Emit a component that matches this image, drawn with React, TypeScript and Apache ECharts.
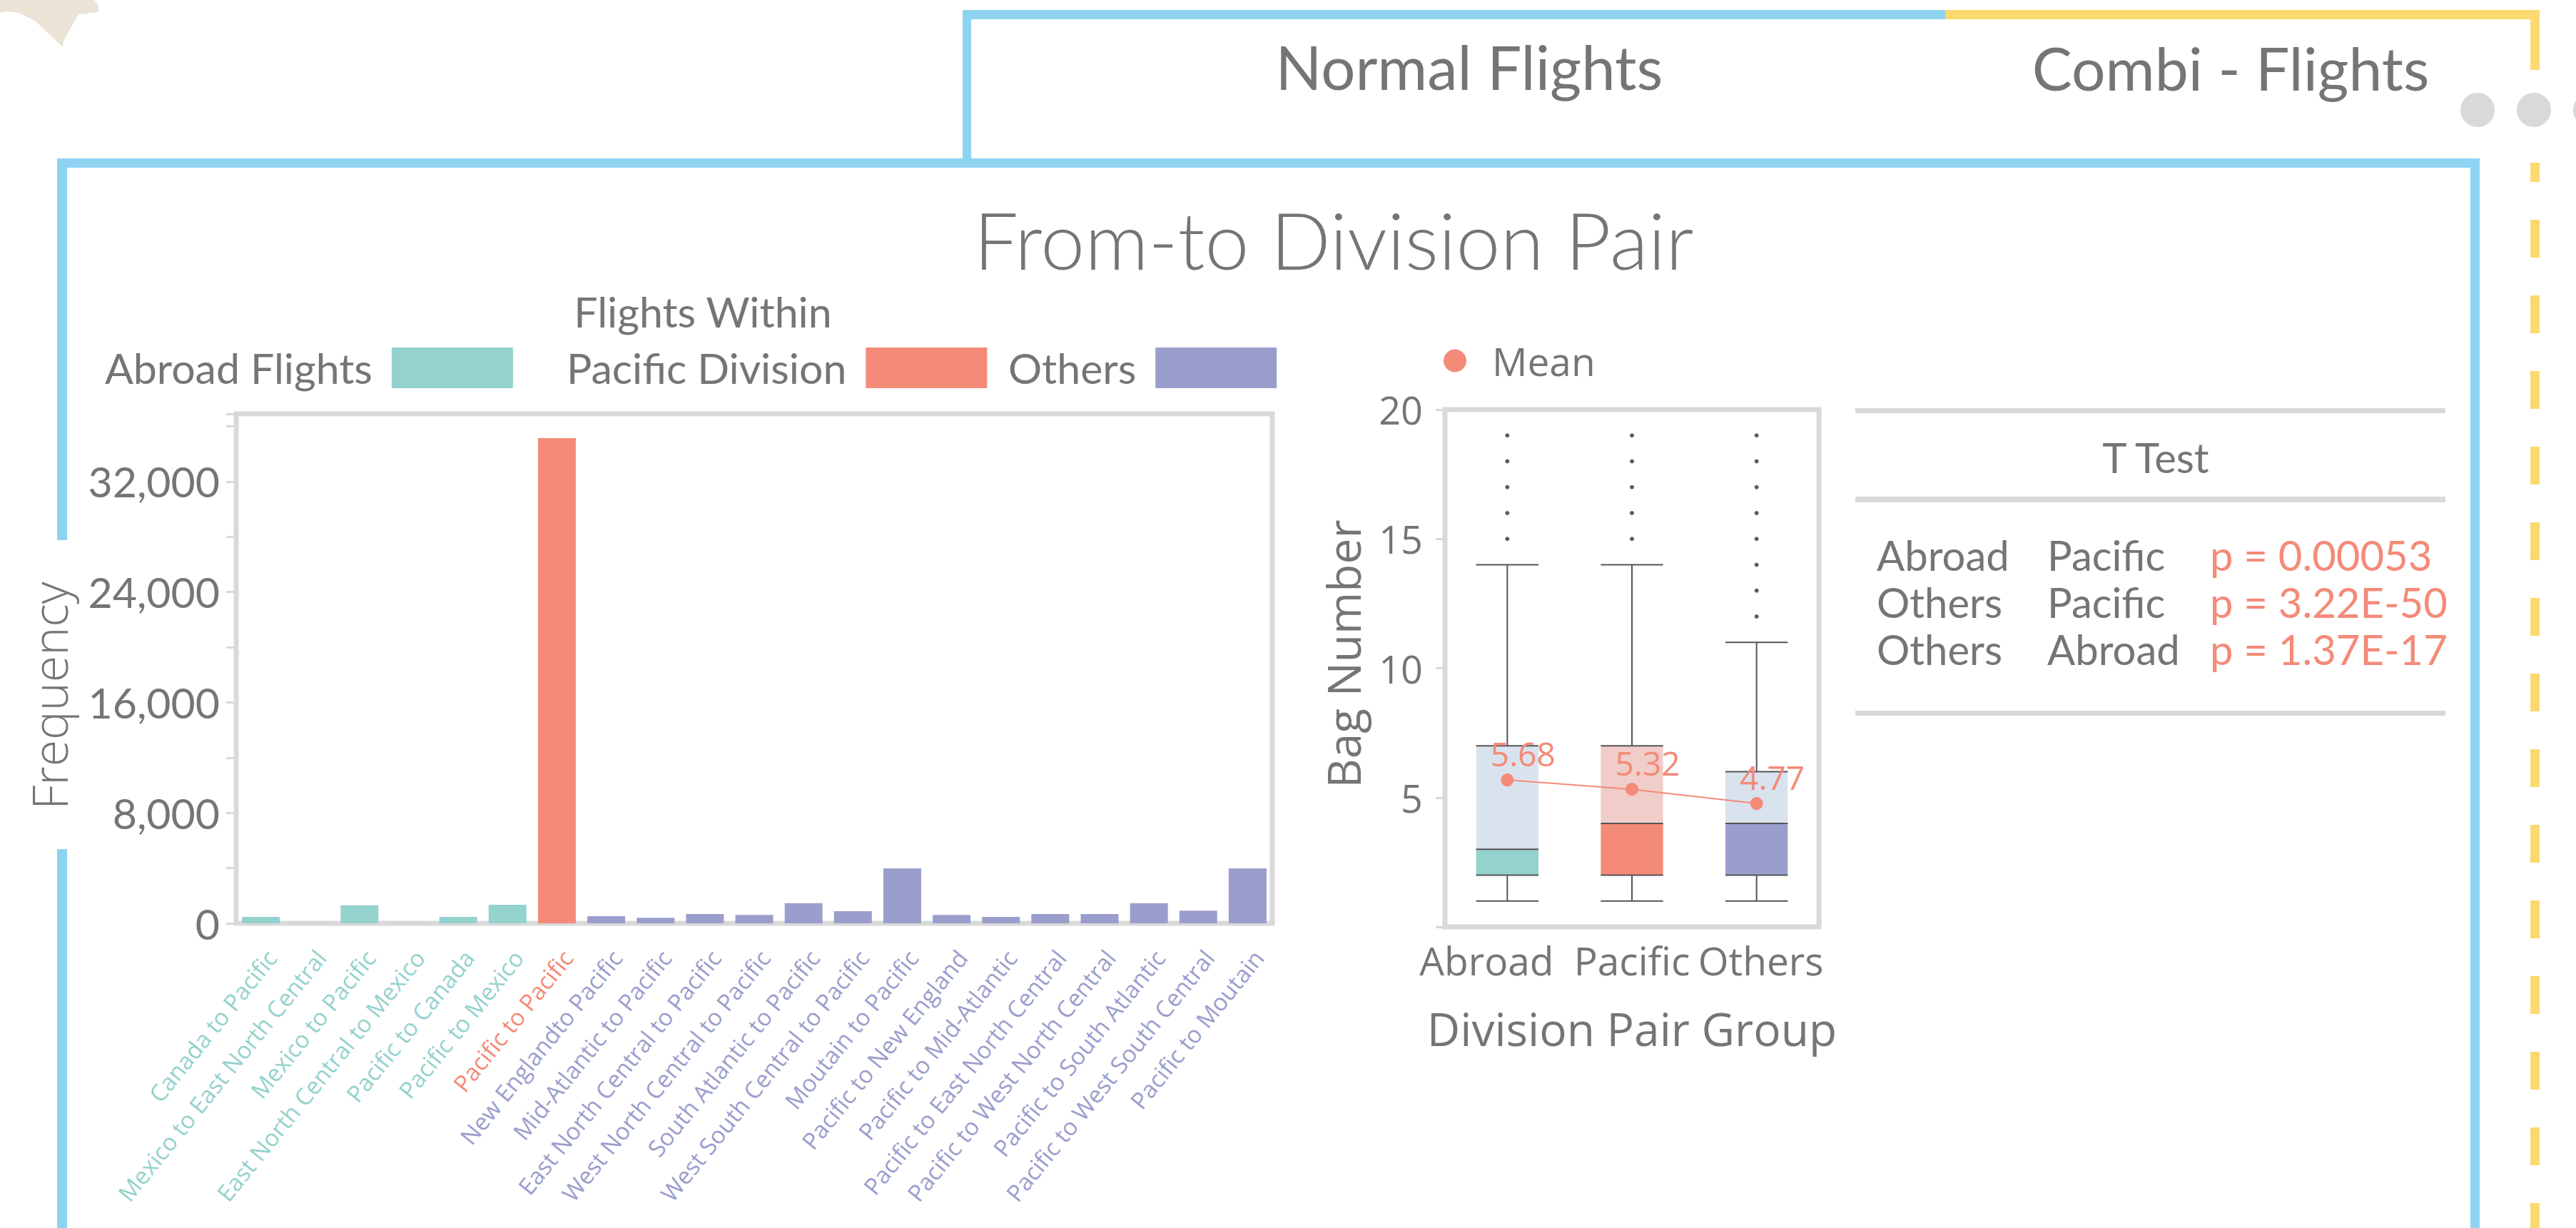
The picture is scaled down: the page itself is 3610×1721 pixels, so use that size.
import React, { useEffect, useRef } from 'react';
import * as echarts from 'echarts';

// ---------- data ----------
const routeNames = [
  'Canada to Pacific',
  'Mexico to East North Central',
  'Mexico to Pacific',
  'East North Central to Mexico',
  'Pacific to Canada',
  'Pacific to Mexico',
  'Pacific to Pacific',
  'New Englandto Pacific',
  'Mid-Atlantic to Pacific',
  'East North Central to Pacific',
  'West North Central to Pacific',
  'South Atlantic to Pacific',
  'West South Central to Pacific',
  'Moutain to Pacific',
  'Pacific to New England',
  'Pacific to Mid-Atlantic',
  'Pacific to East North Central',
  'Pacific to West North Central',
  'Pacific to South Atlantic',
  'Pacific to West South Central',
  'Pacific to Moutain',
];
const routeGroup = [
  'abroad', 'abroad', 'abroad', 'abroad', 'abroad', 'abroad',
  'pacific',
  'others', 'others', 'others', 'others', 'others', 'others', 'others',
  'others', 'others', 'others', 'others', 'others', 'others', 'others',
];
const routeFrequency = [
  460, 15, 1300, 15, 460, 1340, 35140, 520, 400, 670, 610, 1455, 880, 3980,
  610, 460, 670, 670, 1455, 920, 3980,
];
const freqTicks = [0, 8000, 16000, 24000, 32000];

const groupNames = ['Abroad', 'Pacific', 'Others'];
const boxMin = [1, 1, 1];
const boxQ1 = [2, 2, 2];
const boxMedian = [3, 4, 4];
const boxQ3 = [7, 7, 6];
const boxMax = [14, 14, 11];
const outliersAbroad = [15, 16, 17, 18, 19];
const outliersPacific = [15, 16, 17, 18, 19];
const outliersOthers = [12, 13, 14, 15, 16, 17, 18, 19];
const groupMeans = [5.68, 5.32, 4.77];
const bagTicks = [5, 10, 15, 20];

const tTestRows = [
  ['Abroad', 'Pacific', 'p = 0.00053'],
  ['Others', 'Pacific', 'p = 3.22E-50'],
  ['Others', 'Abroad', 'p = 1.37E-17'],
];

// ---------- style ----------
const TEAL = '#94d2cd';
const SALMON = '#f48a78';
const PURPLE = '#9b9ecd';
const GRAY = '#757575';
const LIGHT = '#d9d9d9';
const BLUE = '#8ed4f2';
const YELLOW = '#fbd970';
const CAL = 'Lato, "Open Sans", sans-serif';
const SEG = '"Open Sans", "Noto Sans", sans-serif';

const groupColor: Record<string, string> = { abroad: TEAL, pacific: SALMON, others: PURPLE };
const lowerColors = [TEAL, SALMON, PURPLE];
const upperColors = ['#d9e3ee', '#f0cdc9', '#d9e3ee'];
const groupLabelPadding = [[0, 58, 0, 0], [0, 0, 0, 0], [0, 0, 0, 12]];

// bar chart plot area
const BAR_GRID = { left: 331, top: 580, width: 1452, height: 714 };
const LABEL_SHIFT = 15;

function App() {
  const ref = useRef<HTMLDivElement>(null);

  useEffect(() => {
    document.body.style.margin = '0';
    document.body.style.overflow = 'hidden';
    const chart = echarts.init(ref.current!, null, { renderer: 'svg' });

    const seriesFor = (g: string) =>
      routeFrequency.map((v, i) => (routeGroup[i] === g ? v : '-'));

    const boxData = groupNames.map((_, i) => [i, boxMin[i], boxQ1[i], boxMedian[i], boxQ3[i], boxMax[i]]);
    const outlierData: number[][] = [];
    [outliersAbroad, outliersPacific, outliersOthers].forEach((arr, i) =>
      arr.forEach((v) => outlierData.push([i, v]))
    );

    const rowY = [777, 843, 909];
    const colX = [2630, 2869, 3097];
    const tTestTexts: any[] = [];
    tTestRows.forEach((row, r) =>
      row.forEach((t, c) =>
        tTestTexts.push({
          type: 'text',
          x: colX[c],
          y: rowY[r],
          style: {
            text: t,
            fill: c === 2 ? SALMON : GRAY,
            font: `58px ${CAL}`,
            align: 'left',
            verticalAlign: 'middle',
          },
        })
      )
    );

    const routeLabelStyle = (i: number) => ({
      color: groupColor[routeGroup[i]],
      fontFamily: SEG,
      fontSize: 33,
    });

    const option: any = {
      animation: false,
      backgroundColor: '#ffffff',
      legend: [
        {
          data: [{ name: 'Abroad Flights', icon: 'rect' }],
          left: 147, top: 486, padding: 0, align: 'right',
          itemWidth: 170, itemHeight: 57,
          textStyle: { color: GRAY, fontFamily: CAL, fontSize: 59, padding: [0, 22, 0, 0] },
          selectedMode: false,
        },
        {
          data: [{ name: 'Flights Within Pacific Division', icon: 'rect' }],
          left: 794, top: 486, padding: 0, align: 'right',
          itemWidth: 170, itemHeight: 57,
          formatter: () => 'Pacific Division',
          textStyle: { color: GRAY, fontFamily: CAL, fontSize: 59, padding: [0, 22, 0, 0] },
          selectedMode: false,
        },
        {
          data: [{ name: 'Others', icon: 'rect' }],
          left: 1413, top: 486, padding: 0, align: 'right',
          itemWidth: 170, itemHeight: 57,
          textStyle: { color: GRAY, fontFamily: CAL, fontSize: 59, padding: [0, 22, 0, 0] },
          selectedMode: false,
        },
        {
          data: [{ name: 'Mean', icon: 'circle' }],
          left: 2023, top: 478, padding: 0, align: 'left',
          itemWidth: 32, itemHeight: 32,
          textStyle: { color: GRAY, fontFamily: SEG, fontSize: 55, padding: [0, 0, 0, 31] },
          selectedMode: false,
        },
      ],
      grid: [
        {
          ...BAR_GRID,
          show: true, borderColor: LIGHT, borderWidth: 7, backgroundColor: 'transparent',
        },
        {
          left: 2025, top: 574, width: 524, height: 725,
          show: true, borderColor: LIGHT, borderWidth: 7, backgroundColor: 'transparent',
        },
        // label band for the rotated route names (same size as the bar grid, nudged right)
        { ...BAR_GRID, left: BAR_GRID.left + LABEL_SHIFT, show: false },
      ],
      xAxis: [
        {
          type: 'category',
          gridIndex: 0,
          data: routeNames,
          axisLine: { show: false },
          axisTick: { show: false },
          axisLabel: { show: false },
        },
        {
          type: 'category',
          gridIndex: 1,
          data: groupNames.map((n, i) => ({ value: n, textStyle: { padding: groupLabelPadding[i] } })),
          axisLine: { show: false },
          axisTick: { show: false },
          axisLabel: { interval: 0, margin: 19, color: GRAY, fontFamily: SEG, fontSize: 55 },
          name: 'Division Pair Group',
          nameLocation: 'middle',
          nameGap: 110,
          nameTextStyle: { color: GRAY, fontFamily: SEG, fontSize: 64 },
        },
        {
          type: 'category',
          gridIndex: 2,
          data: routeNames.map((n, i) => ({ value: n, textStyle: routeLabelStyle(i) })),
          axisLine: { show: false },
          axisTick: { show: false },
          axisLabel: {
            interval: 0,
            rotate: 51,
            margin: 42,
            fontFamily: SEG,
            fontSize: 33,
          },
        },
      ],
      yAxis: [
        {
          type: 'value',
          gridIndex: 0,
          min: 0,
          max: 36900,
          interval: 4000,
          splitLine: { show: false },
          axisLine: { show: false },
          axisTick: { show: true, length: 14, lineStyle: { color: LIGHT, width: 3 } },
          axisLabel: {
            margin: 23,
            color: GRAY,
            fontFamily: CAL,
            fontSize: 59,
            formatter: (v: number) => (freqTicks.indexOf(v) >= 0 ? v.toLocaleString('en-US') : ''),
          },
          name: 'Frequency',
          nameLocation: 'middle',
          nameGap: 229,
          nameTextStyle: { color: GRAY, fontFamily: SEG, fontSize: 68, fontWeight: 300, padding: [0, 76, 0, 0] },
        },
        {
          type: 'value',
          gridIndex: 1,
          min: 0,
          max: 20,
          interval: 5,
          splitLine: { show: false },
          axisLine: { show: false },
          axisTick: { show: true, length: 13, lineStyle: { color: LIGHT, width: 3 } },
          axisLabel: {
            margin: 31,
            color: GRAY,
            fontFamily: SEG,
            fontSize: 54,
            formatter: (v: number) => (bagTicks.indexOf(v) >= 0 ? String(v) : ''),
          },
          name: 'Bag Number',
          nameLocation: 'middle',
          nameGap: 111,
          nameTextStyle: { color: GRAY, fontFamily: SEG, fontSize: 64, padding: [0, 0, 0, 40] },
        },
        {
          type: 'value',
          gridIndex: 2,
          show: false,
          min: 0,
          max: 1,
        },
      ],
      series: [
        {
          name: 'Abroad Flights', type: 'bar', stack: 'freq', xAxisIndex: 0, yAxisIndex: 0,
          barWidth: 53, itemStyle: { color: TEAL }, data: seriesFor('abroad'),
        },
        {
          name: 'Flights Within Pacific Division', type: 'bar', stack: 'freq', xAxisIndex: 0, yAxisIndex: 0,
          barWidth: 53, itemStyle: { color: SALMON }, data: seriesFor('pacific'),
        },
        {
          name: 'Others', type: 'bar', stack: 'freq', xAxisIndex: 0, yAxisIndex: 0,
          barWidth: 53, itemStyle: { color: PURPLE }, data: seriesFor('others'),
        },
        {
          name: 'Box',
          type: 'custom',
          xAxisIndex: 1,
          yAxisIndex: 1,
          encode: { x: 0, y: [1, 2, 3, 4, 5] },
          data: boxData,
          renderItem: (params: any, api: any) => {
            const idx = api.value(0);
            const lo = api.coord([idx, api.value(1)]);
            const q1 = api.coord([idx, api.value(2)]);
            const md = api.coord([idx, api.value(3)]);
            const q3 = api.coord([idx, api.value(4)]);
            const hi = api.coord([idx, api.value(5)]);
            const w = api.size([1, 0])[0] * 0.5;
            const x = lo[0];
            const ls = { stroke: '#555555', lineWidth: 2 };
            const hl = (y: number) => ({ type: 'line', shape: { x1: x - w / 2, y1: y, x2: x + w / 2, y2: y }, style: ls });
            return {
              type: 'group',
              children: [
                { type: 'rect', shape: { x: x - w / 2, y: q3[1], width: w, height: md[1] - q3[1] }, style: { fill: upperColors[idx] } },
                { type: 'rect', shape: { x: x - w / 2, y: md[1], width: w, height: q1[1] - md[1] }, style: { fill: lowerColors[idx] } },
                { type: 'line', shape: { x1: x, y1: hi[1], x2: x, y2: q3[1] }, style: ls },
                { type: 'line', shape: { x1: x, y1: q1[1], x2: x, y2: lo[1] }, style: ls },
                hl(hi[1]), hl(q3[1]), hl(md[1]), hl(q1[1]), hl(lo[1]),
              ],
            };
          },
          z: 2,
        },
        {
          name: 'Outliers',
          type: 'scatter',
          xAxisIndex: 1,
          yAxisIndex: 1,
          symbol: 'circle',
          symbolSize: 6,
          itemStyle: { color: '#333333' },
          data: outlierData,
          z: 3,
        },
        {
          name: 'Mean',
          type: 'line',
          xAxisIndex: 1,
          yAxisIndex: 1,
          data: groupMeans,
          symbol: 'circle',
          symbolSize: 18,
          lineStyle: { color: SALMON, width: 2 },
          itemStyle: { color: SALMON },
          label: {
            show: true,
            position: 'top',
            offset: [22, 0],
            color: SALMON,
            fontFamily: SEG,
            fontSize: 46,
            formatter: (p: any) => p.value.toFixed(2),
          },
          z: 5,
        },
      ],
      graphic: [
        // top-left decorative shape
        {
          type: 'polygon',
          shape: {
            points: [[0, 0], [0, 18], [7, 16], [27, 18], [50, 30], [88, 66], [89, 57], [110, 20], [138, 17], [138, 7], [132, 0]],
          },
          style: { fill: '#ebe4d6' },
          silent: true,
        },
        // tab frame
        { type: 'rect', shape: { x: 1349, y: 14, width: 1377, height: 13 }, style: { fill: BLUE } },
        { type: 'rect', shape: { x: 2726, y: 14, width: 833, height: 13 }, style: { fill: YELLOW } },
        { type: 'rect', shape: { x: 1349, y: 14, width: 12, height: 208 }, style: { fill: BLUE } },
        { type: 'rect', shape: { x: 3546, y: 14, width: 13, height: 84 }, style: { fill: YELLOW } },
        { type: 'rect', shape: { x: 3546, y: 228, width: 13, height: 27 }, style: { fill: YELLOW } },
        {
          type: 'line',
          shape: { x1: 3552.5, y1: 308, x2: 3552.5, y2: 1721 },
          style: { stroke: YELLOW, lineWidth: 13, lineDash: [53, 53] },
        },
        // gray dots
        { type: 'circle', shape: { cx: 3472, cy: 154, r: 24 }, style: { fill: LIGHT } },
        { type: 'circle', shape: { cx: 3551, cy: 154, r: 24 }, style: { fill: LIGHT } },
        { type: 'circle', shape: { cx: 3630, cy: 154, r: 24 }, style: { fill: LIGHT } },
        // main frame
        { type: 'rect', shape: { x: 80, y: 222, width: 3395, height: 13 }, style: { fill: BLUE } },
        { type: 'rect', shape: { x: 80, y: 222, width: 14, height: 535 }, style: { fill: BLUE } },
        { type: 'rect', shape: { x: 80, y: 1190, width: 14, height: 531 }, style: { fill: BLUE } },
        { type: 'rect', shape: { x: 3462, y: 222, width: 13, height: 1499 }, style: { fill: BLUE } },
        // tab texts
        {
          type: 'text', x: 2059, y: 93,
          style: { text: 'Normal Flights', fill: GRAY, font: `85px ${CAL}`, align: 'center', verticalAlign: 'middle' },
        },
        {
          type: 'text', x: 3126, y: 94,
          style: { text: 'Combi - Flights', fill: GRAY, font: `84px ${CAL}`, align: 'center', verticalAlign: 'middle' },
        },
        // title
        {
          type: 'text', x: 1869, y: 335,
          style: { text: 'From-to Division Pair', fill: GRAY, font: `300 111px ${CAL}`, align: 'center', verticalAlign: 'middle' },
        },
        // first line of the middle legend label
        {
          type: 'text', x: 985, y: 436,
          style: { text: 'Flights Within', fill: GRAY, font: `59px ${CAL}`, align: 'center', verticalAlign: 'middle' },
        },
        // T test table
        { type: 'rect', shape: { x: 2600, y: 572, width: 827, height: 7 }, style: { fill: LIGHT } },
        { type: 'rect', shape: { x: 2600, y: 696, width: 827, height: 8 }, style: { fill: LIGHT } },
        { type: 'rect', shape: { x: 2600, y: 996, width: 827, height: 7 }, style: { fill: LIGHT } },
        {
          type: 'text', x: 3021, y: 640,
          style: { text: 'T Test', fill: GRAY, font: `58px ${CAL}`, align: 'center', verticalAlign: 'middle' },
        },
        ...tTestTexts,
      ],
    };

    chart.setOption(option);
    return () => chart.dispose();
  }, []);

  return <div ref={ref} style={{ width: 3610, height: 1721 }} />;
}

export default App;
